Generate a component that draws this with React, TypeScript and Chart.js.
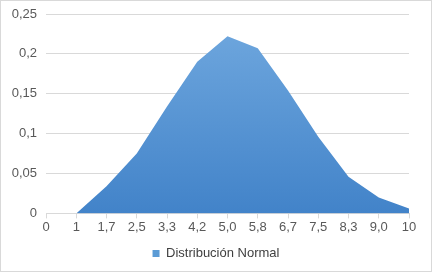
import React, { useEffect, useRef } from "react";
import { Chart, registerables } from "chart.js";

Chart.register(...registerables);

const categories = ["0", "1", "1,7", "2,5", "3,3", "4,2", "5,0", "5,8", "6,7", "7,5", "8,3", "9,0", "10"];
const seriesName = "Distribución Normal";
const values: (number | null)[] = [null, 0, 0.034, 0.075, 0.134, 0.19, 0.222, 0.207, 0.154, 0.096, 0.046, 0.02, 0.006];
const yTicks = [0, 0.05, 0.1, 0.15, 0.2, 0.25];

const FONT = "'Liberation Sans', Arial, sans-serif";

export default function App() {
  const ref = useRef<HTMLCanvasElement | null>(null);

  useEffect(() => {
    document.body.style.margin = "0";
    if (!ref.current) return;
    const chart = new Chart(ref.current, {
      type: "line",
      data: {
        labels: categories,
        datasets: [
          {
            label: seriesName,
            data: values,
            fill: "origin",
            borderWidth: 0,
            borderColor: "rgba(0,0,0,0)",
            pointRadius: 0,
            tension: 0,
            backgroundColor: (ctx: any) => {
              const ca = ctx.chart.chartArea;
              if (!ca) return "#5b9bd5";
              const g = ctx.chart.ctx.createLinearGradient(0, ca.top, 0, ca.bottom);
              g.addColorStop(0, "#71a9df");
              g.addColorStop(1, "#4283c9");
              return g;
            },
          },
        ],
      },
      options: {
        animation: false,
        responsive: false,
        maintainAspectRatio: false,
        layout: { padding: { left: 0, right: 0, top: 13, bottom: 1 } },
        plugins: {
          tooltip: { enabled: false },
          legend: {
            position: "bottom",
            labels: {
              boxWidth: 7,
              boxHeight: 7,
              padding: 11,
              color: "#404040",
              font: { family: FONT, size: 13 },
              generateLabels: (c: any) => {
                const items = Chart.defaults.plugins.legend.labels.generateLabels(c);
                return items.map((it: any) => ({ ...it, fillStyle: "#5b9bd5", strokeStyle: "#5b9bd5", lineWidth: 0 }));
              },
            },
          },
        },
        scales: {
          x: {
            offset: false,
            afterFit: (s: any) => {
              s.paddingRight = 22;
            },
            grid: { drawOnChartArea: false, drawTicks: true, tickLength: 5, color: "#d9d9d9" },
            border: { display: true, color: "#d9d9d9" },
            ticks: {
              color: "#595959",
              maxRotation: 0,
              autoSkip: false,
              padding: 1,
              font: { family: FONT, size: 13 },
            },
          },
          y: {
            min: 0,
            max: 0.25,
            afterBuildTicks: (s: any) => {
              s.ticks = yTicks.map((v) => ({ value: v }));
            },
            afterFit: (s: any) => {
              s.width = 45;
              s.paddingTop = 0;
              s.paddingBottom = 0;
            },
            grid: { color: "#d9d9d9", drawTicks: false },
            border: { display: false },
            ticks: {
              color: "#595959",
              padding: 9,
              font: { family: FONT, size: 13 },
              callback: (v: any) => String(Number(Number(v).toFixed(2))).replace(".", ","),
            },
          },
        },
      },
    });
    return () => chart.destroy();
  }, []);

  return (
    <div
      style={{
        position: "absolute",
        left: 0,
        top: 0,
        width: 432,
        height: 272,
        border: "1px solid #d9d9d9",
        boxSizing: "border-box",
        background: "#fff",
      }}
    >
      <canvas ref={ref} width={430} height={270} style={{ display: "block" }} />
    </div>
  );
}
